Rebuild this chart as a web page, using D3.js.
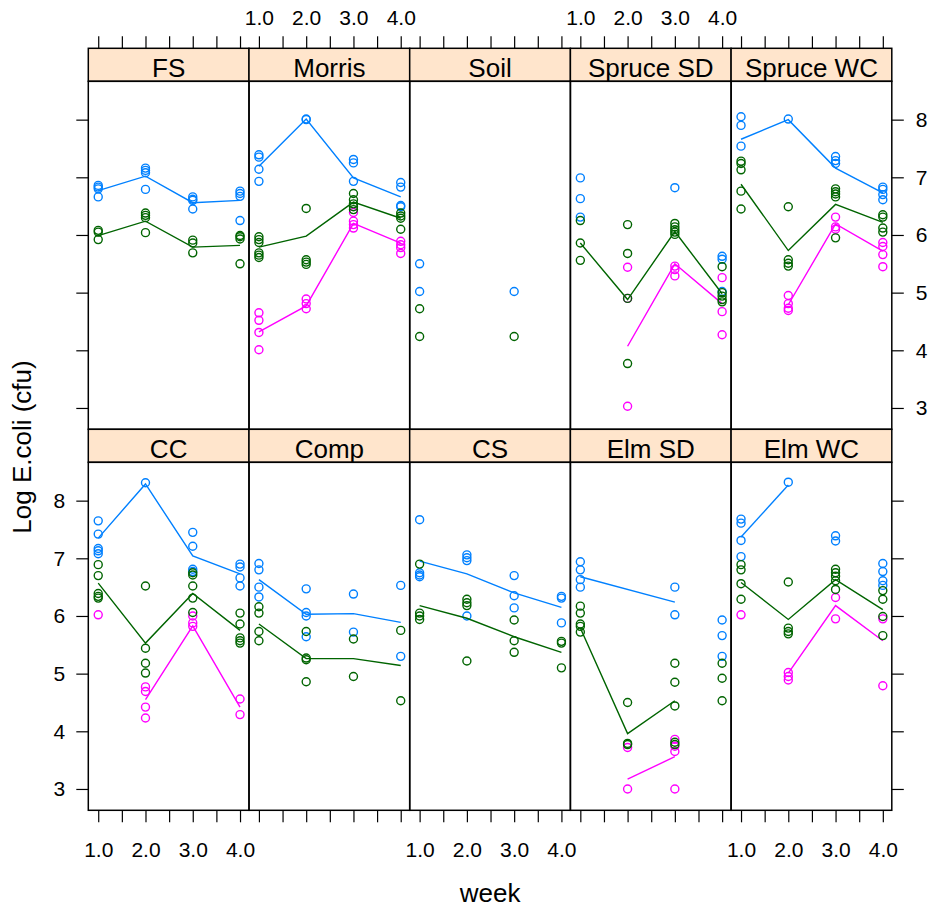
<!DOCTYPE html>
<html>
<head>
<meta charset="utf-8">
<script src="https://cdn.jsdelivr.net/npm/d3@7"></script>
<style>
  body { margin: 0; background: #fff; }
  svg { font-family: "Liberation Sans", Arial, sans-serif; }
</style>
</head>
<body>
<div id="chart"></div>
<script>
// panel order: top row first, then bottom row
const panels = ['FS', 'Morris', 'Soil', 'Spruce SD', 'Spruce WC',
                'CC', 'Comp', 'CS', 'Elm SD', 'Elm WC'];
const weeks = [1, 2, 3, 4];
const xTicks = [1, 1.5, 2, 2.5, 3, 3.5, 4];
const yTicks = [3, 4, 5, 6, 7, 8];

// observed values, per panel, per week
const blueObs = [
  [[6.86, 6.83, 6.80, 6.66], [7.16, 7.12, 7.08, 6.79], [6.66, 6.62, 6.60, 6.45], [6.76, 6.72, 6.67, 6.25]],
  [[7.39, 7.35, 7.14, 6.93], [8.01, 8.00], [7.31, 7.25, 6.93], [6.91, 6.83, 6.51, 6.49]],
  [[5.50, 5.02], [], [5.02], []],
  [[6.99, 6.63, 6.31], [], [6.82], [5.63, 5.58, 5.02]],
  [[8.05, 7.90, 7.54], [8.01], [7.36, 7.29, 7.24], [6.83, 6.79, 6.70, 6.61]],
  [[7.65, 7.42, 7.17, 7.13, 7.08], [8.31], [7.45, 7.21, 6.81, 6.77], [6.90, 6.85, 6.66, 6.52]],
  [[6.91, 6.80, 6.50, 6.33], [6.47, 6.06, 6.00, 5.64], [6.38, 5.72], [6.53, 5.30]],
  [[7.67, 6.75, 6.71, 6.68], [7.06, 7.01, 6.96, 6.00], [6.70, 6.35, 6.14], [6.34, 6.31, 5.88]],
  [[6.94, 6.80, 6.63, 6.50], [], [6.50, 6.02], [5.93, 5.66, 5.30]],
  [[7.68, 7.61, 7.31, 7.03], [8.32], [7.39, 7.30], [6.91, 6.77, 6.61, 6.53]]
];
const magentaObs = [
  [[], [], [], []],
  [[4.65, 4.52, 4.31, 4.01], [4.89, 4.81, 4.72], [6.39, 6.24, 6.18, 6.12], [5.89, 5.83, 5.78, 5.68]],
  [[], [], [], []],
  [[], [5.44, 4.90, 3.03], [5.46, 5.40, 5.29], [5.26, 4.67, 4.27]],
  [[], [4.95, 4.81, 4.73, 4.69], [6.31, 6.14, 6.10], [5.87, 5.80, 5.66, 5.45]],
  [[6.02], [4.77, 4.69, 4.42, 4.23], [6.00, 5.88, 5.82], [4.56, 4.29]],
  [[], [], [], []],
  [[], [], [], []],
  [[], [3.72, 3.00], [3.86, 3.74, 3.65, 3.00], []],
  [[6.02], [5.02, 4.95, 4.89], [6.32, 5.95], [5.95, 4.79]]
];
const greenObs = [
  [[6.08, 6.05, 5.92], [6.38, 6.34, 6.30, 6.04], [5.91, 5.86, 5.69], [5.99, 5.97, 5.93, 5.50]],
  [[5.97, 5.92, 5.87, 5.69, 5.65, 5.61], [6.46, 5.57, 5.53, 5.49], [6.72, 6.61, 6.54, 6.49, 6.44], [6.38, 6.33, 6.29, 6.10]],
  [[4.72, 4.24], [], [4.24], []],
  [[6.25, 5.86, 5.56], [6.18, 5.68, 4.90, 3.77], [6.20, 6.14, 6.09, 6.05, 6.01], [5.45, 5.00, 4.94, 4.88, 4.84]],
  [[7.28, 7.24, 7.13, 6.76, 6.45], [6.49, 5.57, 5.51, 5.46], [6.80, 6.75, 6.71, 6.66, 5.95], [6.35, 6.31, 6.12, 6.05]],
  [[6.89, 6.70, 6.39, 6.34, 6.31], [6.52, 5.44, 5.18, 5.01], [6.75, 6.71, 6.52, 6.31, 6.06], [6.05, 5.86, 5.62, 5.57, 5.53]],
  [[6.16, 6.05, 5.73, 5.57], [5.73, 5.27, 5.24, 4.86], [5.60, 4.95], [5.75, 4.53]],
  [[6.90, 6.05, 6.00, 5.94], [6.29, 6.23, 6.18, 5.22], [5.93, 5.57, 5.37], [5.56, 5.53, 5.10]],
  [[6.17, 6.05, 5.86, 5.82, 5.72], [4.50, 3.79, 3.77], [5.18, 4.85, 4.44, 3.81, 3.77], [5.18, 4.92, 4.53]],
  [[6.89, 6.80, 6.56, 6.29], [6.59, 5.79, 5.73, 5.69], [6.81, 6.75, 6.69, 6.61, 6.46], [6.44, 6.29, 5.99, 5.66]]
];

// average lines, per panel, one value per week (null = no line point)
const blueMean = [
  [6.77, 7.02, 6.56, 6.60],
  [7.19, 8.01, 6.99, 6.66],
  [null, null, null, null],
  [null, null, null, null],
  [7.66, 8.00, 7.16, 6.73],
  [7.35, 8.29, 7.04, 6.73],
  [6.63, 6.03, 6.04, 5.89],
  [6.95, 6.73, 6.40, 6.15],
  [6.68, null, 6.24, null],
  [7.37, 8.27, null, null]
];
const magentaMean = [
  [null, null, null, null],
  [4.32, 4.77, 6.20, 5.86],
  [null, null, null, null],
  [null, 4.07, 5.50, 4.81],
  [null, 4.79, 6.19, 5.72],
  [null, 4.55, 5.83, 4.42],
  [null, null, null, null],
  [null, null, null, null],
  [null, 3.17, 3.56, null],
  [null, 5.01, 6.18, 5.57]
];
const greenMean = [
  [5.99, 6.24, 5.79, 5.82],
  [5.79, 5.98, 6.57, 6.29],
  [null, null, null, null],
  [5.86, 4.88, 6.06, 4.98],
  [6.88, 5.73, 6.53, 6.22],
  [6.57, 5.53, 6.39, 5.75],
  [5.86, 5.26, 5.26, 5.14],
  [6.18, 5.96, 5.64, 5.37],
  [5.79, 3.96, 4.53, null],
  [6.58, 5.94, 6.63, 6.11]
];

const groups = [
  { obs: blueObs, mean: blueMean, color: '#0080ff' },
  { obs: magentaObs, mean: magentaMean, color: '#ff00ff' },
  { obs: greenObs, mean: greenMean, color: '#006400' }
];

const width = 935;
const height = 911;
const leftX = 88.3;
const topY = 48.3;
const panelWidth = 160.7;
const stripHeight = 33;
const panelHeight = 348;
const tickLen = 12;

const svg = d3.select('#chart').append('svg')
  .attr('width', width)
  .attr('height', height);

const x = d3.scaleLinear().domain([0.79, 4.19]).range([0, panelWidth]);
const y = d3.scaleLinear().domain([2.63, 8.665]).range([panelHeight, 0]);

const line = d3.line()
  .x((d) => x(d.week))
  .y((d) => y(d.value));

const intLabel = (d) => (Number.isInteger(d) ? d.toFixed(1) : '');
const yLabel = d3.format('d');
const noLabel = () => '';

function styleAxis(g) {
  g.select('.domain').remove();
  g.selectAll('.tick line').attr('stroke', '#000').attr('stroke-width', 1.2);
  g.selectAll('.tick text').attr('fill', '#000');
  g.attr('font-size', 21).attr('font-family', null);
}

panels.forEach((name, i) => {
  const row = Math.floor(i / 5);
  const col = i % 5;
  const px = leftX + col * panelWidth;
  const stripY = topY + row * (stripHeight + panelHeight);
  const py = stripY + stripHeight;

  // strip
  svg.append('rect')
    .attr('x', px).attr('y', stripY)
    .attr('width', panelWidth).attr('height', stripHeight)
    .attr('fill', '#ffe5cc')
    .attr('stroke', '#000').attr('stroke-width', 1.5);
  svg.append('text')
    .attr('x', px + panelWidth / 2)
    .attr('y', stripY + stripHeight - 4)
    .attr('text-anchor', 'middle')
    .attr('font-size', 26)
    .text(name);

  const g = svg.append('g').attr('transform', `translate(${px},${py})`);

  groups.forEach((grp) => {
    const pts = [];
    grp.obs[i].forEach((vals, w) => {
      vals.forEach((v) => pts.push({ week: weeks[w], value: v }));
    });
    g.selectAll(null).data(pts).enter()
      .append('circle')
      .attr('cx', (d) => x(d.week))
      .attr('cy', (d) => y(d.value))
      .attr('r', 4)
      .attr('fill', 'none')
      .attr('stroke', grp.color)
      .attr('stroke-width', 1.4);

    const meanPts = grp.mean[i]
      .map((v, w) => ({ week: weeks[w], value: v }))
      .filter((d) => d.value !== null);
    if (meanPts.length > 1) {
      g.append('path')
        .attr('d', line(meanPts))
        .attr('fill', 'none')
        .attr('stroke', grp.color)
        .attr('stroke-width', 1.4);
    }
  });

  // panel border
  g.append('rect')
    .attr('width', panelWidth).attr('height', panelHeight)
    .attr('fill', 'none')
    .attr('stroke', '#000').attr('stroke-width', 1.5);

  if (row === 0) {
    svg.append('g')
      .attr('transform', `translate(${px},${stripY})`)
      .call(d3.axisTop(x).tickValues(xTicks).tickSize(tickLen).tickPadding(11)
        .tickFormat(col % 2 === 1 ? intLabel : noLabel))
      .call(styleAxis);
    if (col === 0) {
      svg.append('g')
        .attr('transform', `translate(${px},${py})`)
        .call(d3.axisLeft(y).tickValues(yTicks).tickSize(tickLen).tickFormat(noLabel))
        .call(styleAxis);
    }
    if (col === 4) {
      svg.append('g')
        .attr('transform', `translate(${px + panelWidth},${py})`)
        .call(d3.axisRight(y).tickValues(yTicks).tickSize(tickLen).tickPadding(12)
          .tickFormat(yLabel))
        .call(styleAxis);
    }
  } else {
    svg.append('g')
      .attr('transform', `translate(${px},${py + panelHeight})`)
      .call(d3.axisBottom(x).tickValues(xTicks).tickSize(tickLen).tickPadding(20)
        .tickFormat(col % 2 === 0 ? intLabel : noLabel))
      .call(styleAxis);
    if (col === 0) {
      svg.append('g')
        .attr('transform', `translate(${px},${py})`)
        .call(d3.axisLeft(y).tickValues(yTicks).tickSize(tickLen).tickPadding(11)
          .tickFormat(yLabel))
        .call(styleAxis);
    }
    if (col === 4) {
      svg.append('g')
        .attr('transform', `translate(${px + panelWidth},${py})`)
        .call(d3.axisRight(y).tickValues(yTicks).tickSize(tickLen).tickFormat(noLabel))
        .call(styleAxis);
    }
  }
});

// axis titles
svg.append('text')
  .attr('x', leftX + 2.5 * panelWidth)
  .attr('y', 902)
  .attr('text-anchor', 'middle')
  .attr('font-size', 26)
  .text('week');

svg.append('text')
  .attr('transform', 'translate(31,447) rotate(-90)')
  .attr('text-anchor', 'middle')
  .attr('font-size', 26)
  .text('Log E.coli (cfu)');
</script>
</body>
</html>
